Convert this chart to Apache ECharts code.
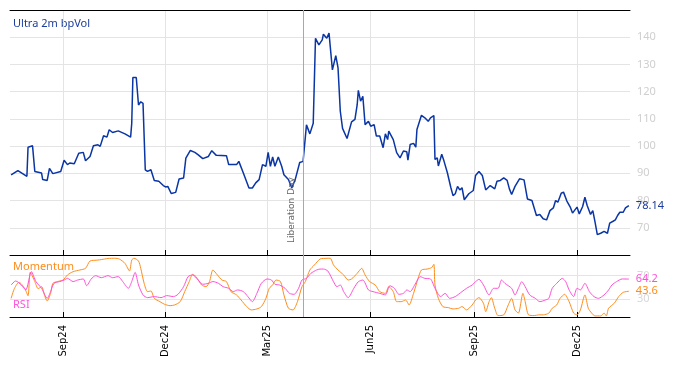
<!DOCTYPE html>
<html><head><meta charset="utf-8">
<script src="https://cdn.jsdelivr.net/npm/echarts@6/dist/echarts.min.js"></script>
<style>html,body{margin:0;padding:0;background:#fff}#c{width:674px;height:366px}</style>
</head><body><div id="c"></div>
<script>
// ---- data ----
const tickDates = ['2024-09-01','2024-12-01','2025-03-01','2025-06-01','2025-09-01','2025-12-01'];
const tickLabels = ['Sep24','Dec24','Mar25','Jun25','Sep25','Dec25'];
const xStart = '2024-07-16';
const xEnd = '2026-01-17';
const eventDate = '2025-04-02';
const eventName = 'Liberation Day';

const volDates = ['2024-07-17','2024-07-23','2024-07-31','2024-08-01','2024-08-05','2024-08-07','2024-08-13','2024-08-14','2024-08-18','2024-08-20','2024-08-23','2024-08-30',
'2024-09-02','2024-09-05','2024-09-07','2024-09-11','2024-09-15','2024-09-19','2024-09-21','2024-09-25','2024-09-28','2024-10-02','2024-10-04','2024-10-07','2024-10-10','2024-10-12','2024-10-15','2024-10-20','2024-10-26','2024-10-31','2024-11-01','2024-11-02','2024-11-05','2024-11-07','2024-11-09','2024-11-11','2024-11-13','2024-11-15','2024-11-18','2024-11-21','2024-11-25','2024-11-29',
'2024-12-01','2024-12-03','2024-12-06','2024-12-10','2024-12-13','2024-12-17','2024-12-19','2024-12-23','2024-12-27','2024-12-30','2025-01-03','2025-01-08','2025-01-11','2025-01-15','2025-01-24','2025-01-26','2025-02-02','2025-02-04','2025-02-08','2025-02-13','2025-02-16','2025-02-19','2025-02-22','2025-02-25','2025-02-28','2025-03-02','2025-03-04','2025-03-06','2025-03-08','2025-03-11','2025-03-14','2025-03-16','2025-03-20','2025-03-23','2025-03-26','2025-03-30','2025-04-02','2025-04-05','2025-04-08','2025-04-11',
'2025-04-13','2025-04-16','2025-04-19','2025-04-20','2025-04-23','2025-04-25','2025-04-28','2025-05-01','2025-05-03','2025-05-05','2025-05-07','2025-05-11','2025-05-12','2025-05-15','2025-05-18','2025-05-20','2025-05-21','2025-05-23','2025-05-25','2025-05-27','2025-05-30','2025-06-01','2025-06-04','2025-06-06','2025-06-09','2025-06-12','2025-06-14','2025-06-16','2025-06-17','2025-06-21','2025-06-24','2025-06-27','2025-06-30','2025-07-03','2025-07-04','2025-07-06','2025-07-09','2025-07-11','2025-07-12','2025-07-16','2025-07-19','2025-07-22','2025-07-24','2025-07-27','2025-07-28','2025-07-30','2025-07-31','2025-08-03','2025-08-05','2025-08-08',
'2025-08-11','2025-08-13','2025-08-15','2025-08-17','2025-08-19','2025-08-21','2025-08-23','2025-08-27','2025-08-31','2025-09-02','2025-09-05','2025-09-08','2025-09-11','2025-09-15','2025-09-19','2025-09-21','2025-09-24','2025-09-27','2025-09-30','2025-10-02','2025-10-04','2025-10-07','2025-10-11','2025-10-15','2025-10-18','2025-10-22','2025-10-26','2025-10-29','2025-11-01','2025-11-04','2025-11-07','2025-11-10','2025-11-12','2025-11-14','2025-11-17','2025-11-19','2025-11-22','2025-11-25','2025-11-27','2025-12-01','2025-12-03','2025-12-06','2025-12-08','2025-12-10','2025-12-13','2025-12-15','2025-12-17','2025-12-19','2025-12-22','2025-12-25','2025-12-28','2025-12-30','2026-01-02','2026-01-04','2026-01-06','2026-01-08','2026-01-11','2026-01-13','2026-01-16'];
const volValues = [89.4,91.0,88.9,99.6,100.1,90.7,90.1,87.7,87.4,91.8,89.9,90.7,
94.8,93.2,93.8,93.5,97.4,97.7,94.6,96.2,100.1,100.5,99.9,103.8,103.3,106,105,105.6,104.5,103.3,108.4,125.2,125.2,115.1,116.3,115.7,91.3,90.7,91.3,87.4,87.1,85.5,
85,85.2,82.6,83,87.9,88.3,95.6,98.4,97.7,96.8,95.4,96.2,98.3,96.6,96.5,93.2,93.2,94.4,90.1,84.6,84.6,86.5,87.7,93.2,92.6,97.7,92.6,96,92.6,96,92.6,89.5,87.7,84.6,87.7,94,94.4,107.8,104.5,108.4,
139.6,137.2,139,141.1,139.6,141.5,128,133.2,128.7,112.8,106.5,102.8,102.8,108.9,109.8,115.2,120.5,116.5,118.3,107.9,109.1,107.3,107.9,103.7,103.7,99.4,104.5,102.4,105.5,102.4,97.6,95.7,98.2,97.9,94.8,100.6,101,99.6,106.1,111.3,110.4,109.1,110.4,111.2,95.1,95.7,92.7,97,94.5,90.2,
84.9,81.8,82.5,85.2,83.9,84.7,80.3,82.5,83.7,89.2,90.7,89.2,83.9,85.5,84.3,87.1,87.4,88.3,87.4,84.3,82.2,85.2,88,87.6,80.6,80,74.5,74.9,73.3,72.9,76.3,77.3,80,79.4,82.7,83.1,79.8,77.6,75.4,77.6,75.1,77.8,81.2,78.2,74.9,76.3,72.1,67.5,68,68.7,68,71.7,72.4,72.9,74.5,75.7,75.7,77.3,78.14];

const momDates = ['2024-07-17','2024-07-20','2024-07-24','2024-07-29','2024-08-01','2024-08-03','2024-08-07','2024-08-10','2024-08-13','2024-08-16','2024-08-18','2024-08-21','2024-08-23','2024-08-27','2024-09-01','2024-09-05','2024-09-10','2024-09-16','2024-09-21','2024-09-25','2024-10-02','2024-10-08','2024-10-11','2024-10-17','2024-10-21','2024-10-26','2024-10-30','2024-11-01','2024-11-03','2024-11-07','2024-11-09','2024-11-12','2024-11-15','2024-11-18','2024-11-21','2024-11-26','2024-11-30','2024-12-05','2024-12-09','2024-12-14','2024-12-18','2024-12-22','2024-12-25','2024-12-28','2025-01-02','2025-01-06','2025-01-09','2025-01-12','2025-01-16','2025-01-20','2025-01-24','2025-01-28','2025-02-02','2025-02-06','2025-02-11','2025-02-15','2025-02-20','2025-02-24','2025-02-28','2025-03-03','2025-03-06','2025-03-09','2025-03-13','2025-03-16','2025-03-20','2025-03-24','2025-03-28','2025-04-01','2025-04-04','2025-04-08','2025-04-12','2025-04-17',
'2025-04-20','2025-04-26','2025-04-29','2025-05-03','2025-05-08','2025-05-12','2025-05-15','2025-05-20','2025-05-24','2025-05-27','2025-05-31','2025-06-05','2025-06-09','2025-06-14','2025-06-17','2025-06-21','2025-06-24','2025-06-28','2025-07-02','2025-07-05','2025-07-09','2025-07-13','2025-07-16','2025-07-21','2025-07-25','2025-07-27','2025-07-28','2025-07-31','2025-08-04','2025-08-09','2025-08-13','2025-08-18','2025-08-21','2025-08-25','2025-08-30','2025-09-02','2025-09-05','2025-09-09','2025-09-11','2025-09-14','2025-09-16','2025-09-19','2025-09-22','2025-09-27','2025-10-01','2025-10-04','2025-10-07','2025-10-10','2025-10-14','2025-10-16','2025-10-19','2025-10-24','2025-10-28','2025-11-01','2025-11-06','2025-11-09','2025-11-13','2025-11-16','2025-11-20','2025-11-24','2025-11-28','2025-12-01','2025-12-04','2025-12-08','2025-12-11','2025-12-14','2025-12-17','2025-12-22','2025-12-25','2025-12-27','2025-12-29','2026-01-03','2026-01-07','2026-01-11','2026-01-16'];
const momValues = [31.6,48.6,58.8,48.6,36,76,60,48,51.4,34.6,27.2,40,57,60,62.6,71.2,76.8,79.6,82.4,94.8,96.4,98.2,99.2,99.5,98.2,90.8,78,96.4,99.5,94.8,82.4,57,43,44,31.6,26,21.6,19.2,20.4,26,43,60,72.2,68.4,54.2,51.4,60,79.6,71.2,62.6,60,43,37.4,28.8,17.6,12,13.6,17.6,31.6,48.6,54.2,62.6,60,37.4,14.8,12,26,51.4,60,79.6,88,98.2,
99.2,99.5,88,79.6,71.2,62.6,64.4,74,82.4,71.2,60,54.2,43,40,51.4,43,26,26,28.8,20.4,40,65.4,79.6,81.2,83.6,89.2,54.2,31.6,17.6,15.8,13.6,14.8,17.6,12,20.4,28.8,32.8,23.2,9.2,26,32.8,14.8,2.4,3.6,20.4,31.6,12,6.6,40,26,3.6,2.4,3.6,3.6,6.6,14.8,20.4,31.6,38.4,26,6.6,3.6,12,37.4,14.8,6.6,1.8,1.8,6.6,1.8,14.8,23.2,34.6,41.8,43.6];

const rsiDates = ['2024-07-17','2024-07-21','2024-07-26','2024-07-30','2024-08-04','2024-08-08','2024-08-13','2024-08-18','2024-08-21','2024-08-24','2024-08-29','2024-09-02','2024-09-05','2024-09-10','2024-09-14','2024-09-19','2024-09-22','2024-09-26','2024-09-30','2024-10-05','2024-10-11','2024-10-15','2024-10-20','2024-10-24','2024-10-29','2024-11-01','2024-11-04','2024-11-07','2024-11-11','2024-11-15','2024-11-21','2024-11-27','2024-12-02','2024-12-08','2024-12-12','2024-12-17','2024-12-21','2024-12-25','2024-12-30','2025-01-03','2025-01-08','2025-01-12','2025-01-17','2025-01-21','2025-01-26','2025-01-30','2025-02-03','2025-02-08','2025-02-12','2025-02-16','2025-02-20','2025-02-24','2025-03-01','2025-03-05','2025-03-08','2025-03-12','2025-03-17','2025-03-21','2025-03-25','2025-03-29','2025-04-01','2025-04-05','2025-04-09','2025-04-14','2025-04-17',
'2025-04-20','2025-04-24','2025-04-29','2025-05-02','2025-05-05','2025-05-08','2025-05-12','2025-05-17','2025-05-21','2025-05-25','2025-05-30','2025-06-03','2025-06-09','2025-06-14','2025-06-18','2025-06-22','2025-06-26','2025-06-30','2025-07-03','2025-07-06','2025-07-10','2025-07-15','2025-07-19','2025-07-24','2025-07-28','2025-08-02','2025-08-06','2025-08-10','2025-08-15','2025-08-21','2025-08-25','2025-08-30','2025-09-02','2025-09-05','2025-09-09','2025-09-14','2025-09-18','2025-09-22','2025-09-25','2025-09-28','2025-10-04','2025-10-07','2025-10-10','2025-10-13','2025-10-16','2025-10-20','2025-10-25','2025-10-29','2025-11-03','2025-11-06','2025-11-09','2025-11-13','2025-11-18','2025-11-21','2025-11-24','2025-11-28','2025-12-01','2025-12-04','2025-12-08','2025-12-12','2025-12-16','2025-12-20','2025-12-25','2025-12-29','2026-01-01','2026-01-05','2026-01-10','2026-01-16'];
const rsiValues = [54.2,61,54.2,45.8,76.8,60,48.6,31.6,43,57,60,62.6,65.4,60,62.6,64.4,53,64.4,70,66.6,70,66.6,68.4,60,48.6,60,75.6,54.2,37.4,32.8,34.6,32.8,36.2,34.6,38.4,51.4,68.4,71.2,62.6,55.4,57,60,57,51.4,48.6,43,45.8,43,34.6,26,40,57,64.4,62.6,55.4,54.2,48.6,40,38.4,48.6,62.6,65.4,74,79.6,81.2,
81.2,77.8,59.8,51.4,54.2,43,32.8,48.6,59.8,62.6,45.8,43,40,37.4,53,48.6,38.4,40,45.8,43,54.2,68.4,65.4,64.4,48.6,34.6,40,31.6,34.6,43,48.6,54.2,59.8,63.8,54.2,37.4,48.6,48.6,62.6,57,48.6,37.4,48.6,59.8,51.4,37.4,31.6,26,28.8,31.6,48.6,57,65.4,59.8,45.8,34.6,48.6,45.8,57,43,34.6,31.6,37.4,45.8,54.2,59.8,64.4,64.2];

const volTicks = [60,150,10];
const oscTicks = [30,70];

// ---- chart ----
const ts = d => +echarts.time.parse(d);
const zip = (d, v) => d.map((x, i) => [ts(x), v[i]]);
const tickTs = tickDates.map(ts);
const BLUE = '#0a35a5', ORANGE = '#ff8c1a', PINK = '#ff4fd8';
const FONT = 'DejaVu Sans';

function bottomX(gridIndex, labels) {
  return {
    type: 'value', gridIndex, min: ts(xStart), max: ts(xEnd), scale: true,
    axisLine: {show: true, onZero: false, lineStyle: {color: '#000', width: 1}},
    axisTick: {show: true, inside: true, length: 5, customValues: tickTs, lineStyle: {color: '#000'}},
    axisLabel: {show: labels, customValues: tickTs, rotate: 90, fontSize: 10, color: '#000', fontFamily: FONT, margin: 8,
      formatter: v => { const i = tickTs.indexOf(+v); return i >= 0 ? tickLabels[i] : ''; }},
    splitLine: {show: true, lineStyle: {color: '#e4e4e4', width: 1}}
  };
}

const chart = echarts.init(document.getElementById('c'));
chart.setOption({
  animation: false,
  backgroundColor: '#fff',
  grid: [
    {left: 10, right: 44, top: 10, height: 245},
    {left: 10, right: 44, top: 255, height: 62}
  ],
  xAxis: [
    bottomX(0, false),
    {type: 'value', gridIndex: 0, position: 'top', min: ts(xStart), max: ts(xEnd), scale: true,
     axisLine: {show: true, onZero: false, lineStyle: {color: '#000', width: 1}}, axisTick: {show: false}, axisLabel: {show: false}, splitLine: {show: false}},
    bottomX(1, true)
  ],
  yAxis: [
    {type: 'value', gridIndex: 0, position: 'right', min: volTicks[0], max: volTicks[1], interval: volTicks[2],
     axisLine: {show: false}, axisTick: {show: false},
     axisLabel: {color: '#cfcfcf', fontSize: 11, fontFamily: 'Noto Sans', margin: 7, showMinLabel: false, showMaxLabel: false},
     splitLine: {lineStyle: {color: '#e4e4e4', width: 1}}},
    {type: 'value', gridIndex: 1, position: 'right', min: 0, max: 105,
     axisLine: {show: false}, axisTick: {show: false, customValues: oscTicks},
     axisLabel: {customValues: oscTicks, color: '#d8d8d8', fontSize: 11, fontFamily: 'Noto Sans', margin: 7},
     splitLine: {lineStyle: {color: '#e4e4e4', width: 1}}}
  ],
  graphic: [
    {type: 'text', left: 13, top: 18, style: {text: 'Ultra 2m bpVol', fill: '#1a3c9c', font: '11px "Noto Sans"'}},
    {type: 'text', left: 13, top: 261, style: {text: 'Momentum', fill: ORANGE, font: '11px "Noto Sans"'}},
    {type: 'text', left: 13, top: 299, style: {text: 'RSI', fill: '#ff55dd', font: '11px "Noto Sans"'}}
  ],
  series: [
    {type: 'line', xAxisIndex: 0, yAxisIndex: 0, data: zip(volDates, volValues), showSymbol: false, z: 3,
     lineStyle: {color: BLUE, width: 1.5}, itemStyle: {color: BLUE},
     endLabel: {show: true, formatter: p => p.value[1].toFixed(2), color: '#1a3c9c', fontSize: 11, fontFamily: 'Noto Sans', distance: 7},
     markLine: {silent: true, symbol: 'none', animation: false,
       lineStyle: {color: '#a8a8a8', type: 'solid', width: 1},
       label: {show: true, formatter: eventName, position: 'insideStartTop', color: '#666', fontSize: 9, fontFamily: FONT, distance: [12, 7]},
       data: [{xAxis: ts(eventDate)}]}},
    {type: 'line', xAxisIndex: 2, yAxisIndex: 1, data: zip(momDates, momValues), showSymbol: false, smooth: 0.25, z: 2,
     lineStyle: {color: ORANGE, width: 1}, itemStyle: {color: ORANGE},
     endLabel: {show: true, formatter: p => p.value[1].toFixed(1), color: ORANGE, fontSize: 11, fontFamily: 'Noto Sans', distance: 7}},
    {type: 'line', xAxisIndex: 2, yAxisIndex: 1, data: zip(rsiDates, rsiValues), showSymbol: false, smooth: 0.25, z: 3,
     lineStyle: {color: PINK, width: 1}, itemStyle: {color: PINK},
     endLabel: {show: true, formatter: p => p.value[1].toFixed(1), color: PINK, fontSize: 11, fontFamily: 'Noto Sans', distance: 7},
     markLine: {silent: true, symbol: 'none', animation: false, label: {show: false},
       lineStyle: {color: '#a8a8a8', type: 'solid', width: 1}, data: [{xAxis: ts(eventDate)}]}}
  ]
});
</script></body></html>
